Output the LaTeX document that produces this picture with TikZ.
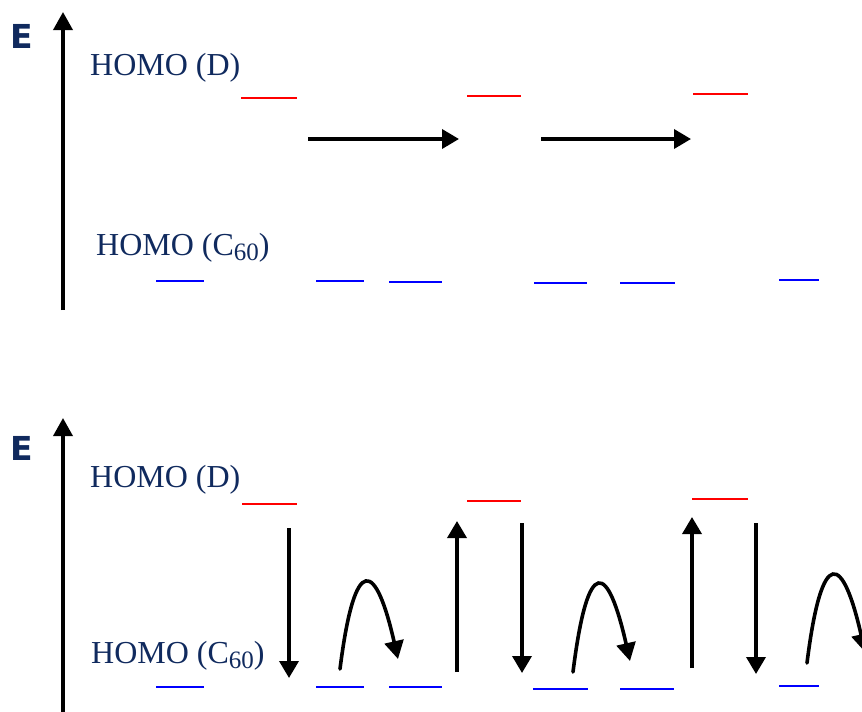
\documentclass[tikz,border=0pt]{standalone}
\usepackage{fontspec}
\setmainfont{Liberation Serif}
\newfontfamily\labelsans{DejaVu Sans}
\usetikzlibrary{arrows.meta}
\definecolor{navy}{RGB}{16,42,94}
\newcommand{\subsixty}{\raisebox{-5pt}{\fontsize{25}{28}\selectfont 60}}
\begin{document}
\begin{tikzpicture}[x=1pt,y=-1pt,
  axis/.style={line width=3.5pt,-{Triangle[length=18pt,width=19pt]}},
  move/.style={line width=3.6pt,-{Triangle[length=17pt,width=19pt]}},
  hop/.style={line width=3.6pt,line cap=round,-{Triangle[length=18pt,width=19pt]}},
  dlevel/.style={red,line width=2.5pt},
  alevel/.style={blue,line width=2.5pt},
  lbl/.style={anchor=base west,inner sep=0pt,text=navy,font=\fontsize{32}{38}\selectfont},
  elbl/.style={anchor=base west,inner sep=0pt,text=navy,font=\labelsans\bfseries\fontsize{33}{38}\selectfont}]
\clip (0,0) rectangle (862,712);

% ---------- upper panel: energy axis and labels ----------
\coordinate (ax1b) at (63,310);
\coordinate (ax1t) at (63,12);
\draw[axis] (ax1b) -- (ax1t);
\node[elbl] (E1) at (10,48) {E};
\node[lbl] (hd1) at (90,75) {HOMO (D)};
\node[lbl] (ha1) at (96,255) {HOMO (C\subsixty)};

% donor levels
\draw[dlevel] (241,98) -- (297,98);
\draw[dlevel] (467,96) -- (521,96);
\draw[dlevel] (693,94) -- (748,94);
% acceptor levels
\draw[alevel] (156,281) -- (204,281);
\draw[alevel] (316,281) -- (364,281);
\draw[alevel] (389,282) -- (442,282);
\draw[alevel] (534,283) -- (587,283);
\draw[alevel] (620,283) -- (675,283);
\draw[alevel] (779,280) -- (819,280);

% lateral transfer arrows
\coordinate (h1s) at (308,139);
\coordinate (h1e) at (459,139);
\coordinate (h2s) at (541,139);
\coordinate (h2e) at (691,139);
\draw[move] (h1s) -- (h1e);
\draw[move] (h2s) -- (h2e);

% ---------- lower panel: energy axis and labels ----------
\coordinate (ax2b) at (63,720);
\coordinate (ax2t) at (63,418);
\draw[axis] (ax2b) -- (ax2t);
\node[elbl] (E2) at (10,460) {E};
\node[lbl] (hd2) at (90,487) {HOMO (D)};
\node[lbl] (ha2) at (91,663) {HOMO (C\subsixty)};

% donor levels
\draw[dlevel] (242,504) -- (297,504);
\draw[dlevel] (467,501) -- (521,501);
\draw[dlevel] (692,499) -- (748,499);
% acceptor levels
\draw[alevel] (156,687) -- (204,687);
\draw[alevel] (316,687) -- (364,687);
\draw[alevel] (389,687) -- (442,687);
\draw[alevel] (533,689) -- (588,689);
\draw[alevel] (620,689) -- (674,689);
\draw[alevel] (779,686) -- (819,686);

% vertical transfers between donor and acceptor levels
\coordinate (d1t) at (289,528);  \coordinate (d1b) at (289,678);
\coordinate (u1b) at (457,672);  \coordinate (u1t) at (457,521);
\coordinate (d2t) at (522,523);  \coordinate (d2b) at (522,673);
\coordinate (u2b) at (692,668);  \coordinate (u2t) at (692,517);
\coordinate (d3t) at (756,523);  \coordinate (d3b) at (756,674);
\draw[move] (d1t) -- (d1b);
\draw[move] (u1b) -- (u1t);
\draw[move] (d2t) -- (d2b);
\draw[move] (u2b) -- (u2t);
\draw[move] (d3t) -- (d3b);

% hopping between neighbouring acceptor sites
\coordinate (c1s) at (340,669); \coordinate (c1e) at (398,659);
\coordinate (c2s) at (573,672); \coordinate (c2e) at (630,661);
\coordinate (c3s) at (807,663); \coordinate (c3e) at (865,652);
\draw[hop] (c1s) .. controls (355,550) and (376,562) .. (c1e);
\draw[hop] (c2s) .. controls (588,552) and (608,564) .. (c2e);
\draw[hop] (c3s) .. controls (822,543) and (843,555) .. (c3e);
\end{tikzpicture}
\end{document}
